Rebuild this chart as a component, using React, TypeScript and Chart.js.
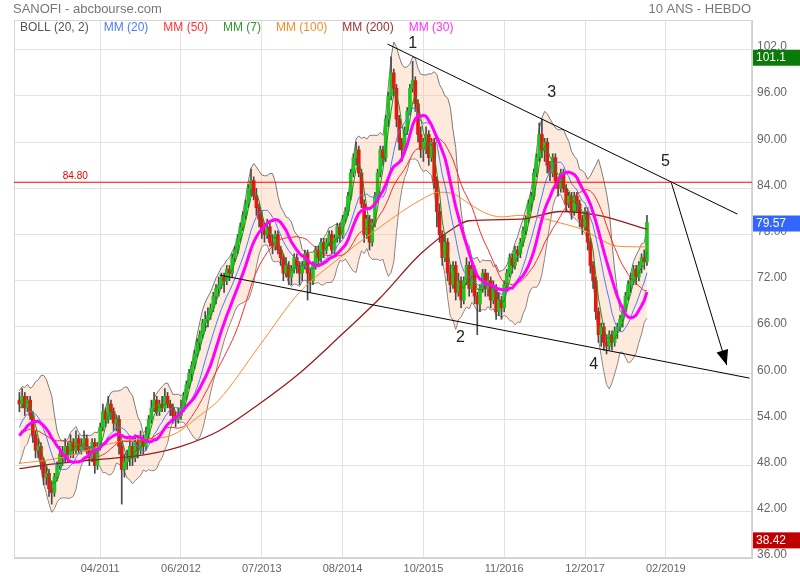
import React, { useEffect, useRef } from 'react';
import { Chart, registerables } from 'chart.js';
Chart.register(...registerables);

const FONT = '"Liberation Sans", Arial, Helvetica, sans-serif';

const titleLeft = 'SANOFI - abcbourse.com';
const titleRight = '10 ANS - HEBDO';
const legendItems = ['BOLL (20, 2)', 'MM (20)', 'MM (50)', 'MM (7)', 'MM (100)', 'MM (200)', 'MM (30)'];

// x axis: one unit = one 2-week candle
const xTickPos = [30, 60, 90, 120, 150, 180, 210, 240];
const xTickLabels = ['04/2011', '06/2012', '07/2013', '08/2014', '10/2015', '11/2016', '12/2017', '02/2019'];
const yTicks = [36, 42, 48, 54, 60, 66, 72, 78, 84, 90, 96, 102];

// closes before the first visible candle (indicator warm-up only)
const preCloses = [50, 51, 49, 50.5, 48.5, 49, 50, 52.5, 51, 53.5, 52, 55, 54, 56.5];

const opens = [
  56.5, 56, 57, 55.5, 56.5, 54.5, 52, 50, 50.5, 48.5,
  46.5, 47, 45, 44.5, 46.5, 48, 49.5, 49, 50.5, 49.5,
  51, 50, 51.5, 50, 50.5, 51.5, 50, 49, 51, 48,
  50.5, 53, 55, 54, 56, 55, 53.5, 54, 50.5, 47.5,
  48.5, 49, 50.5, 49, 51, 50, 51.5, 50.5, 52, 54,
  55.5, 56.5, 55, 56, 55.5, 57, 56, 55.5, 54.5, 54,
  54.5, 55.5, 57, 58.5, 60, 61, 62.5, 64, 65, 66.5,
  67, 67.5, 68.5, 70, 71, 71.5, 72.5, 72, 73.5, 73,
  75, 76, 77.5, 79, 80.5, 82, 84, 85, 83, 81.5,
  80, 78.5, 78, 79, 77, 76.5, 78, 76, 75, 73,
  74, 72.5, 73.5, 75, 74, 73, 74, 75.5, 73, 72,
  74, 76, 75, 77, 76, 77, 78, 76, 77.5, 79,
  78, 80, 81, 83, 86, 88, 89, 86, 82, 78,
  80, 77, 79.5, 83, 86, 89, 88, 93, 96, 99,
  97, 93, 90, 89, 91.5, 94, 97, 98, 95, 91,
  89, 90, 91, 88, 90, 85, 81, 78, 75, 77,
  73, 71.5, 74, 70.5, 72, 69.5, 72, 74, 71, 73.5,
  70, 69, 71, 73, 71, 72, 69.5, 71, 68, 69.5,
  68.5, 71.5, 73, 75, 74, 76, 75.5, 77, 78.5, 80,
  82, 83, 86, 88, 91, 89, 90, 87, 86, 88,
  85, 84, 86, 84, 82, 83, 81, 83, 82, 80,
  79, 81, 77, 74, 72, 68, 65, 66, 64, 63.5,
  65, 64, 65.5, 66, 67, 68, 70, 71.5, 72, 73.5,
  72.5, 74, 75, 74.5,
];

const highs = [
  57.5, 58, 57.5, 57, 57, 55, 52.5, 51.5, 51, 49,
  48, 47.5, 46, 47, 48.5, 50.5, 50.5, 51.5, 51, 52,
  51.5, 52.5, 52, 51.5, 52.5, 52, 50.5, 51.5, 51.5, 51,
  53.5, 56, 55.5, 57, 56.5, 55.5, 54.5, 54.5, 51, 49.5,
  50, 51.5, 51, 52, 51.5, 52.5, 52, 53, 54.5, 56.5,
  57.5, 57, 56.5, 57, 58, 57.5, 56.5, 56, 55, 55.5,
  56.5, 57.5, 59, 60.5, 61.5, 63, 64.5, 65.5, 67, 68,
  68.5, 69, 70.5, 71.5, 72.5, 73, 73, 74, 74, 75.5,
  76.5, 78, 79.5, 81, 82.5, 84.5, 86.5, 85.5, 84, 82,
  81, 79.5, 80, 79.5, 78, 78.5, 78.5, 76.5, 75.5, 75,
  74.5, 74, 75.5, 75.5, 74.5, 74.5, 76, 76, 73.5, 74.5,
  76.5, 76.5, 77.5, 77.5, 77.5, 78.5, 78.5, 78, 79.5, 79.5,
  80.5, 81.5, 83.5, 86.5, 88.5, 90, 89.5, 86.5, 82.5, 80.5,
  80.5, 80, 83.5, 86.5, 89.5, 89.5, 93.5, 96.5, 101.1, 99.5,
  97.5, 93.5, 90.5, 92, 94.5, 97.5, 100.5, 98.5, 95.5, 92,
  90.5, 92, 91.5, 90.5, 90.5, 85.5, 82, 78.5, 78, 77.5,
  74, 74.5, 74.5, 73, 72.5, 72.5, 75, 74.5, 74.5, 74,
  70.5, 71.5, 73.5, 73.5, 73, 72.5, 72, 71.5, 70.5, 70,
  72, 73.5, 75.5, 75.5, 76.5, 76.5, 77.5, 79, 80.5, 82.5,
  83.5, 86.5, 88.5, 92.5, 93, 90.5, 90.5, 87.5, 88.5, 88.5,
  85.5, 86.5, 86.5, 84.5, 83.5, 83.5, 83.5, 83.5, 82.5, 80.5,
  81.5, 81.5, 77.5, 74.5, 72.5, 68.5, 66.5, 66.5, 65, 65.5,
  65.5, 66, 66.5, 67.5, 68.5, 70.5, 72, 73, 74, 74,
  74.5, 75.5, 76, 80.5,
];

const lows = [
  55, 55.5, 54.5, 55, 54, 51, 49, 49, 47.5, 45.5,
  45.5, 44, 43, 44, 46, 47.5, 48, 48.5, 48.5, 49,
  49, 49.5, 49.5, 49.5, 50, 49.5, 48, 48.5, 47, 47.5,
  50, 52.5, 53, 53.5, 54, 52.5, 52.5, 49.5, 43, 46.5,
  47.5, 48, 48, 48.5, 49, 49.5, 49.5, 50, 51.5, 53.5,
  55, 54.5, 54.5, 55, 55, 55.5, 54.5, 53.5, 53, 53.5,
  54, 55, 56.5, 58, 59, 60.5, 62, 63, 64.5, 65.5,
  66, 67, 68, 69, 70, 71, 70.5, 71.5, 72, 72.5,
  74.5, 75.5, 77, 78.5, 80, 81.5, 83, 82.5, 80.5, 79,
  77.5, 77, 77.5, 76.5, 75.5, 76, 75.5, 74, 72, 72.5,
  71.5, 71.5, 73, 73, 71.5, 72, 73.5, 69.5, 70.5, 71.5,
  73.5, 74, 74.5, 75, 75.5, 76.5, 75.5, 75.5, 77, 77,
  77.5, 79.5, 80.5, 82.5, 85.5, 87, 85.5, 81.5, 77, 77.5,
  76, 76.5, 79, 82.5, 85.5, 87, 87.5, 92, 95.5, 96,
  92, 89, 87.5, 88.5, 91, 93.5, 96.5, 94, 90, 88,
  87.5, 88.5, 87, 87.5, 84, 79, 77, 74, 74.5, 72,
  70.5, 71, 69.5, 70, 68.5, 69, 71.5, 70, 70.5, 69,
  65, 68, 70.5, 70, 70, 68.5, 69, 67, 67.5, 67,
  68, 71, 72.5, 73, 73.5, 74.5, 75, 76.5, 78, 79.5,
  81, 82.5, 85.5, 87.5, 88, 87.5, 86, 85, 85.5, 84,
  83, 83.5, 83.5, 81, 81.5, 80, 80.5, 81, 79, 78,
  78.5, 76, 73, 71, 67, 64, 63.5, 63, 62.5, 63,
  63, 63.5, 64.5, 65.5, 66, 67.5, 69.5, 70.5, 71.5, 71.5,
  72, 73, 73.5, 74,
];

const closes = [
  56, 57, 55.5, 56.5, 54.5, 52, 50, 50.5, 48.5, 46.5,
  47, 45, 44.5, 46.5, 48, 49.5, 49, 50.5, 49.5, 51,
  50, 51.5, 50, 50.5, 51.5, 50, 49, 51, 48, 50.5,
  53, 55, 54, 56, 55, 53.5, 54, 50.5, 47.5, 48.5,
  49, 50.5, 49, 51, 50, 51.5, 50.5, 52, 54, 55.5,
  56.5, 55, 56, 55.5, 57, 56, 55.5, 54.5, 54, 54.5,
  55.5, 57, 58.5, 60, 61, 62.5, 64, 65, 66.5, 67,
  67.5, 68.5, 70, 71, 71.5, 72.5, 72, 73.5, 73, 75,
  76, 77.5, 79, 80.5, 82, 84, 85, 83, 81.5, 80,
  78.5, 78, 79, 77, 76.5, 78, 76, 75, 73, 74,
  72.5, 73.5, 75, 74, 73, 74, 75.5, 73, 72, 74,
  76, 75, 77, 76, 77, 78, 76, 77.5, 79, 78,
  80, 81, 83, 86, 88, 89, 86, 82, 78, 80,
  77, 79.5, 83, 86, 89, 88, 93, 96, 99, 97,
  93, 90, 89, 91.5, 94, 97, 98, 95, 91, 89,
  90, 91, 88, 90, 85, 81, 78, 75, 77, 73,
  71.5, 74, 70.5, 72, 69.5, 72, 74, 71, 73.5, 70,
  69, 71, 73, 71, 72, 69.5, 71, 68, 69.5, 68.5,
  71.5, 73, 75, 74, 76, 75.5, 77, 78.5, 80, 82,
  83, 86, 88, 91, 89, 90, 87, 86, 88, 85,
  84, 86, 84, 82, 83, 81, 83, 82, 80, 79,
  81, 77, 74, 72, 68, 65, 66, 64, 63.5, 65,
  64, 65.5, 66, 67, 68, 70, 71.5, 72, 73.5, 72.5,
  74, 75, 74.5, 79.57,
];

// long moving averages (candle index / price)
const mm100Idx = [0, 12, 21, 30, 40, 48, 57, 67, 74, 89, 104, 119, 134, 149, 156, 161, 167, 173, 179, 186, 201, 210, 215, 222, 233];
const mm100Val = [48.3, 48.8, 49.5, 50.5, 51.3, 51.5, 52, 54.5, 56.5, 63.5, 70.5, 75, 79, 82.5, 83.5, 83.3, 82, 80.8, 80.3, 80.5, 79.5, 78.5, 77.5, 76.5, 76.4];
const mm200Idx = [0, 12, 30, 48, 60, 74, 89, 104, 119, 134, 149, 161, 167, 186, 201, 215, 233];
const mm200Val = [47.6, 48.2, 48.8, 49.5, 50.5, 52.5, 56, 60, 64.8, 69.8, 75.5, 78.8, 79.8, 80, 81, 80.5, 78.7];

// annotations (candle index / price)
const resistanceLevel = 84.8;
const resistanceLabelX = 16.1;
const upperLineX = [136.7, 266.6];
const upperLineY = [102.74, 80.66];
const lowerLineX = [74.35, 271.1];
const lowerLineY = [72.74, 59.36];
const arrowX = [242.1, 262.6];
const arrowY = [84.69, 61.05];
const waveLabels = ['1', '2', '3', '4', '5'];
const waveX = [146, 163.8, 197.6, 213.2, 239.9];
const waveY = [102.87, 64.56, 96.38, 61.18, 87.42];
const markerValues = [101.1, 79.57, 38.42];

const legendColors = ['#555555', '#4a7cff', '#ff3333', '#2a9a2a', '#ff8a2a', '#a03030', '#ff30ff'];
const markerColors = ['#0a7a0a', '#3366ff', '#c00000'];

function sma(all: number[], offset: number, w: number) {
  return closes.map((_, i) => {
    const k = i + offset;
    const s = Math.max(0, k - w + 1);
    let sum = 0;
    for (let j = s; j <= k; j++) sum += all[j];
    return { x: i, y: sum / (k - s + 1) };
  });
}

const overlayPlugin = {
  id: 'overlay',
  beforeDatasetsDraw(chart: any) {
    const { ctx, chartArea: a } = chart;
    ctx.save();
    ctx.strokeStyle = '#d6d6d6';
    ctx.lineWidth = 1;
    ctx.strokeRect(a.left + 0.5, a.top + 0.5, a.right - a.left - 1, a.bottom - a.top - 1);
    ctx.restore();
  },
  afterDraw(chart: any) {
    const { ctx, chartArea: a, scales } = chart;
    const xs = scales.x;
    const ys = scales.y;
    ctx.save();
    ctx.textBaseline = 'middle';
    ctx.font = `13px ${FONT}`;
    ctx.fillStyle = '#777';
    ctx.textAlign = 'left';
    ctx.fillText(titleLeft, 13, 9);
    ctx.textAlign = 'right';
    ctx.fillText(titleRight, a.right - 1, 9);

    ctx.font = `12px ${FONT}`;
    ctx.textAlign = 'left';
    let lx = a.left + 6;
    legendItems.forEach((t, k) => {
      ctx.fillStyle = legendColors[k];
      ctx.fillText(t, lx, a.top + 8);
      lx += ctx.measureText(t).width + 15;
    });

    // resistance label
    ctx.font = `10px ${FONT}`;
    ctx.fillStyle = '#e00000';
    ctx.textBaseline = 'bottom';
    ctx.fillText(resistanceLevel.toFixed(2), xs.getPixelForValue(resistanceLabelX), ys.getPixelForValue(resistanceLevel) - 1);

    // wave labels
    ctx.font = `16px ${FONT}`;
    ctx.fillStyle = '#222';
    ctx.textAlign = 'center';
    ctx.textBaseline = 'middle';
    waveLabels.forEach((t, k) => {
      ctx.fillText(t, xs.getPixelForValue(waveX[k]), ys.getPixelForValue(waveY[k]));
    });

    // arrow head
    const x0 = xs.getPixelForValue(arrowX[0]);
    const y0 = ys.getPixelForValue(arrowY[0]);
    const x1 = xs.getPixelForValue(arrowX[1]);
    const y1 = ys.getPixelForValue(arrowY[1]);
    const ang = Math.atan2(y1 - y0, x1 - x0);
    const L = 15, W = 6;
    const bx = x1 - L * Math.cos(ang), by = y1 - L * Math.sin(ang);
    ctx.fillStyle = '#000';
    ctx.beginPath();
    ctx.moveTo(x1, y1);
    ctx.lineTo(bx - W * Math.sin(ang), by + W * Math.cos(ang));
    ctx.lineTo(bx + W * Math.sin(ang), by - W * Math.cos(ang));
    ctx.closePath();
    ctx.fill();

    // value boxes on the axis
    ctx.font = `12px ${FONT}`;
    ctx.textAlign = 'left';
    markerValues.forEach((v, k) => {
      const py = ys.getPixelForValue(v);
      ctx.fillStyle = markerColors[k];
      ctx.fillRect(a.right + 1, py - 7, chart.width - a.right - 1, 16);
      ctx.fillStyle = '#fff';
      ctx.fillText(String(v), a.right + 4, py + 1);
    });
    ctx.restore();
  },
};

export default function App() {
  const ref = useRef<HTMLCanvasElement>(null);
  useEffect(() => {
    document.body.style.margin = '0';
    const canvas = ref.current;
    if (!canvas) return;
    Chart.defaults.font.family = FONT;

    const all = preCloses.concat(closes);
    const off = preCloses.length;
    const mm7 = sma(all, off, 4);
    const mm20 = sma(all, off, 10);
    const mm30 = sma(all, off, 15);
    const mm50 = sma(all, off, 25);
    const bbUp: any[] = [];
    const bbLo: any[] = [];
    closes.forEach((_, i) => {
      const k = i + off;
      const s = Math.max(0, k - 9);
      const win = all.slice(s, k + 1);
      const m = win.reduce((p, c) => p + c, 0) / win.length;
      const sd = Math.sqrt(win.reduce((p, c) => p + (c - m) * (c - m), 0) / win.length);
      bbUp.push({ x: i, y: m + 2 * sd });
      bbLo.push({ x: i, y: m - 2 * sd });
    });
    const bodies = closes.map((c, i) => ({ x: i, y: [opens[i], c] }));
    const wicks = closes.map((_, i) => ({ x: i, y: [lows[i], highs[i]] }));
    const bodyColors = closes.map((c, i) => (c >= opens[i] ? '#1fc41f' : '#e01b12'));
    const mm100 = mm100Idx.map((x, k) => ({ x, y: mm100Val[k] }));
    const mm200 = mm200Idx.map((x, k) => ({ x, y: mm200Val[k] }));
    const line = (data: any[], color: string, width: number, order: number, extra: any = {}) => ({
      type: 'line', data, borderColor: color, borderWidth: width, pointRadius: 0, fill: false, order, tension: 0, ...extra,
    });

    const chart = new Chart(canvas, {
      type: 'bar',
      data: {
        datasets: [
          line(bbUp, '#7a7a7a', 1, 20, { fill: '+1', backgroundColor: 'rgba(250,190,150,0.32)' }),
          line(bbLo, '#7a7a7a', 1, 20),
          { type: 'bar', data: wicks, backgroundColor: '#4a4a4a', barThickness: 1, grouped: false, order: 12 },
          { type: 'bar', data: bodies, backgroundColor: bodyColors, barThickness: 3, grouped: false, order: 11, minBarLength: 1 },
          line(mm200, '#9b1c1c', 1.3, 6, { cubicInterpolationMode: 'monotone' }),
          line(mm100, '#ff8a2a', 1, 6, { cubicInterpolationMode: 'monotone' }),
          line(mm50, '#ff2a2a', 1, 5),
          line(mm20, '#4a7cff', 1, 5),
          line(mm7, '#1e8f1e', 1, 4),
          line(mm30, '#ff00ff', 3, 3),
          line([{ x: -2, y: resistanceLevel }, { x: 272, y: resistanceLevel }], '#ff0000', 1, 2),
          line(upperLineX.map((x, k) => ({ x, y: upperLineY[k] })), '#000', 1, 1),
          line(lowerLineX.map((x, k) => ({ x, y: lowerLineY[k] })), '#000', 1, 1),
          line(arrowX.map((x, k) => ({ x, y: arrowY[k] })), '#000', 1, 1),
        ] as any,
      },
      options: {
        responsive: false,
        animation: false,
        events: [],
        layout: { padding: { left: 14, top: 20, right: 0, bottom: 0 } },
        plugins: { legend: { display: false }, tooltip: { enabled: false } },
        scales: {
          x: {
            type: 'linear',
            min: -2,
            max: 272,
            offset: false,
            afterBuildTicks: (s: any) => { s.ticks = xTickPos.map((v) => ({ value: v })); },
            afterFit: (s: any) => { s.height = 22; },
            grid: { color: '#e2e2e2', drawTicks: false, offset: false },
            border: { color: '#d0d0d0' },
            ticks: {
              autoSkip: false,
              maxRotation: 0,
              padding: 4,
              color: '#666',
              font: { size: 11, family: FONT },
              callback: (_v: any, idx: number) => xTickLabels[idx] ?? '',
            },
          },
          y: {
            position: 'right',
            min: 36,
            max: 105.87,
            afterBuildTicks: (s: any) => { s.ticks = yTicks.map((v) => ({ value: v })); },
            afterFit: (s: any) => { s.width = 48; },
            grid: { color: '#e2e2e2', drawTicks: false },
            border: { color: '#d0d0d0' },
            ticks: {
              padding: 5,
              labelOffset: -3,
              color: '#666',
              font: { size: 12, family: FONT },
              callback: (v: any) => (Number(v) >= 100 ? Number(v).toFixed(1) : Number(v).toFixed(2)),
            },
          },
        },
      } as any,
      plugins: [overlayPlugin],
    });
    return () => chart.destroy();
  }, []);
  return (
    <div style={{ width: 800, height: 580 }}>
      <style>{'body{margin:0}'}</style>
      <canvas ref={ref} width={800} height={580} style={{ display: 'block' }} />
    </div>
  );
}
